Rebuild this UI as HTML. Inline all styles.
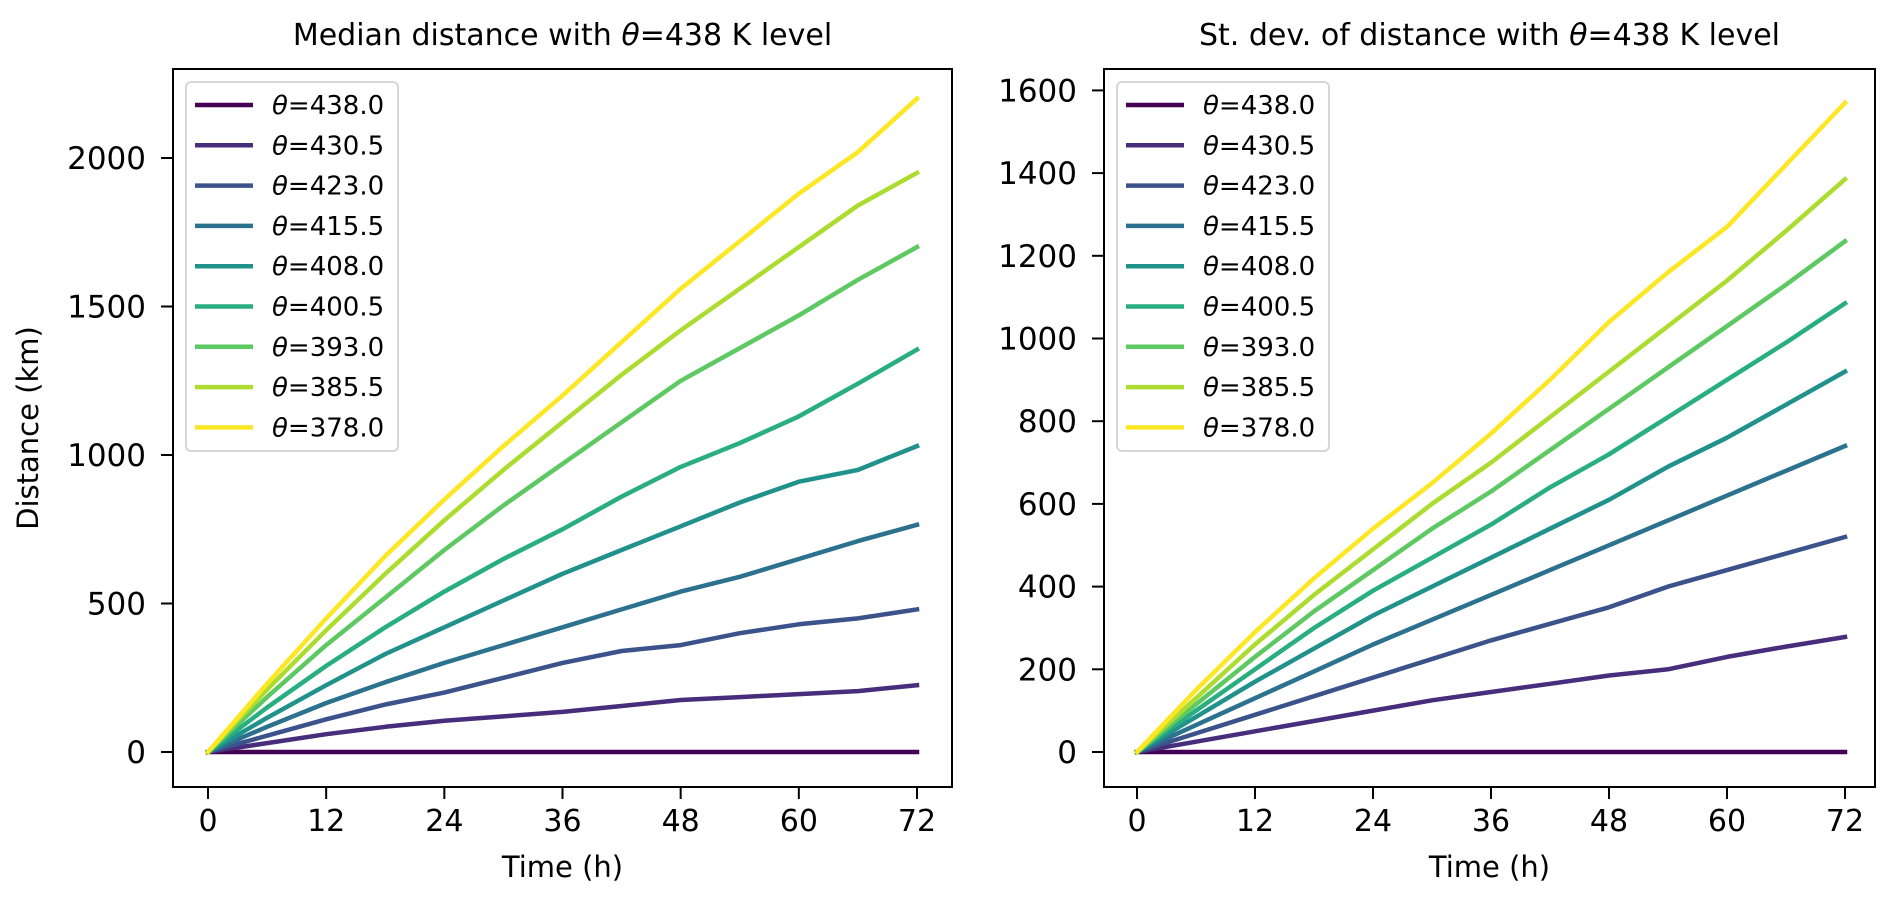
<!DOCTYPE html>
<html><head><meta charset="utf-8">
<style>
html,body{margin:0;padding:0;background:#fff;}
svg{display:block;font-family:"DejaVu Sans","Liberation Sans",sans-serif;}
</style></head>
<body>
<svg id="chart" width="1892" height="906" viewBox="0 0 1892 906" xmlns="http://www.w3.org/2000/svg"></svg>
<script>
const times = [0,6,12,18,24,30,36,42,48,54,60,66,72];
const thetaLabels = ["438.0","430.5","423.0","415.5","408.0","400.5","393.0","385.5","378.0"];
const colors = ["#440154","#472d7b","#3b528b","#2c728e","#21918c","#28ae80","#5ec962","#addc30","#fde725"];
const xTicks = [0,12,24,36,48,60,72];
const medTicks = [0,500,1000,1500,2000];
const sdTicks = [0,200,400,600,800,1000,1200,1400,1600];
const med438 = [0,0,0,0,0,0,0,0,0,0,0,0,0];
const med4305 = [0,30,60,85,105,120,135,155,175,185,195,205,225];
const med423 = [0,55,110,160,200,250,300,340,360,400,430,450,480];
const med4155 = [0,85,165,235,300,360,420,480,540,590,650,710,765];
const med408 = [0,115,225,330,420,510,600,680,760,840,910,950,1030];
const med4005 = [0,150,290,420,540,650,750,860,960,1040,1130,1240,1355];
const med393 = [0,185,360,520,680,830,970,1110,1250,1360,1470,1590,1700];
const med3855 = [0,210,410,600,780,950,1110,1270,1420,1560,1700,1840,1950];
const med378 = [0,230,450,660,850,1030,1200,1380,1560,1720,1880,2020,2200];
const sd438 = [0,0,0,0,0,0,0,0,0,0,0,0,0];
const sd4305 = [0,25,50,75,100,125,145,165,185,200,230,255,278];
const sd423 = [0,45,90,135,180,225,270,310,350,400,440,480,520];
const sd4155 = [0,65,130,195,260,320,380,440,500,560,620,680,740];
const sd408 = [0,85,170,250,330,400,470,540,610,690,760,840,920];
const sd4005 = [0,100,200,300,390,470,550,640,720,810,900,990,1085];
const sd393 = [0,115,230,340,440,540,630,730,830,930,1030,1130,1235];
const sd3855 = [0,130,260,380,490,600,700,810,920,1030,1140,1260,1385];
const sd378 = [0,150,290,420,540,650,770,900,1040,1160,1270,1420,1570];

const NS="http://www.w3.org/2000/svg";
const svg=document.getElementById('chart');
function mk(tag,attrs,parent){const e=document.createElementNS(NS,tag);for(const k in attrs)e.setAttribute(k,attrs[k]);(parent||svg).appendChild(e);return e;}

function panel(cfg){
  const g=mk('g',{});
  
  
  const xs=v=>cfg.x0+(v-0)/72*(cfg.x72-cfg.x0);
  const ys=v=>cfg.y0-(v)/cfg.yUnit*cfg.yUnitPx;
  cfg.series.forEach((s,i)=>{
    const p=mk('polyline',{points:times.map((t,j)=>xs(t).toFixed(1)+','+ys(s[j]).toFixed(1)).join(' '),fill:'none',stroke:colors[i],'stroke-width':4.5,'stroke-linejoin':'round','stroke-linecap':'square'},g);
    
    
  });
  const fr=mk('rect',{x:cfg.L,y:cfg.T,width:cfg.R-cfg.L,height:cfg.B-cfg.T,fill:'none',stroke:'#000','stroke-width':2},g);
  
  
  xTicks.forEach(t=>{
    mk('line',{x1:xs(t),x2:xs(t),y1:cfg.B,y2:cfg.B+12,stroke:'#000','stroke-width':2},g);
    const tx=mk('text',{x:xs(t),y:cfg.B+44,'font-size':30,'text-anchor':'middle',fill:'#000'},g);
    tx.textContent=t;
    
    
  });
  cfg.yTicks.forEach(t=>{
    mk('line',{x1:cfg.L-12,x2:cfg.L,y1:ys(t),y2:ys(t),stroke:'#000','stroke-width':2},g);
    const tx=mk('text',{x:cfg.L-27,y:ys(t)+11,'font-size':31,'text-anchor':'end',fill:'#000'},g);
    tx.textContent=t;
    
    
  });
  const xl=mk('text',{x:(cfg.L+cfg.R)/2,y:cfg.B+90,'font-size':29,'text-anchor':'middle'},g);
  xl.textContent='Time (h)';
  
  
  const ti=mk('text',{x:(cfg.L+cfg.R)/2,y:45,'font-size':30,'text-anchor':'middle'},g);
  ti.innerHTML=cfg.title;
  
  
  const lg=mk('g',{},g);
  
  
  mk('rect',{x:cfg.L+13,y:cfg.T+13,width:212,height:369,rx:5,fill:'#fff','fill-opacity':0.8,stroke:'#d6d6d6','stroke-width':2},lg);
  thetaLabels.forEach((lab,i)=>{
    const y=cfg.T+36+i*40.3;
    const e=mk('g',{},lg);
    
    
    mk('line',{x1:cfg.L+22,x2:cfg.L+80,y1:y,y2:y,stroke:colors[i],'stroke-width':4.5},e);
    const t=mk('text',{x:cfg.L+99,y:y+9,'font-size':26},e);
    t.innerHTML='<tspan font-style="italic">θ</tspan>='+lab;
  });
}
panel({name:'median-panel',L:173,R:952,T:69,B:787,x0:208,x72:917,y0:752,yUnit:500,yUnitPx:148.5,yTicks:medTicks,
  series:[med438,med4305,med423,med4155,med408,med4005,med393,med3855,med378],
  title:'Median distance with <tspan font-style="italic">θ</tspan>=438 K level'});
panel({name:'stdev-panel',L:1104,R:1875,T:69,B:787,x0:1137,x72:1845,y0:752,yUnit:200,yUnitPx:82.7,yTicks:sdTicks,
  series:[sd438,sd4305,sd423,sd4155,sd408,sd4005,sd393,sd3855,sd378],
  title:'St. dev. of distance with <tspan font-style="italic">θ</tspan>=438 K level'});
const yl=mk('text',{x:38,y:428,'font-size':29,'text-anchor':'middle',transform:'rotate(-90 38 428)'});
yl.textContent='Distance (km)';


</script>
</body></html>
